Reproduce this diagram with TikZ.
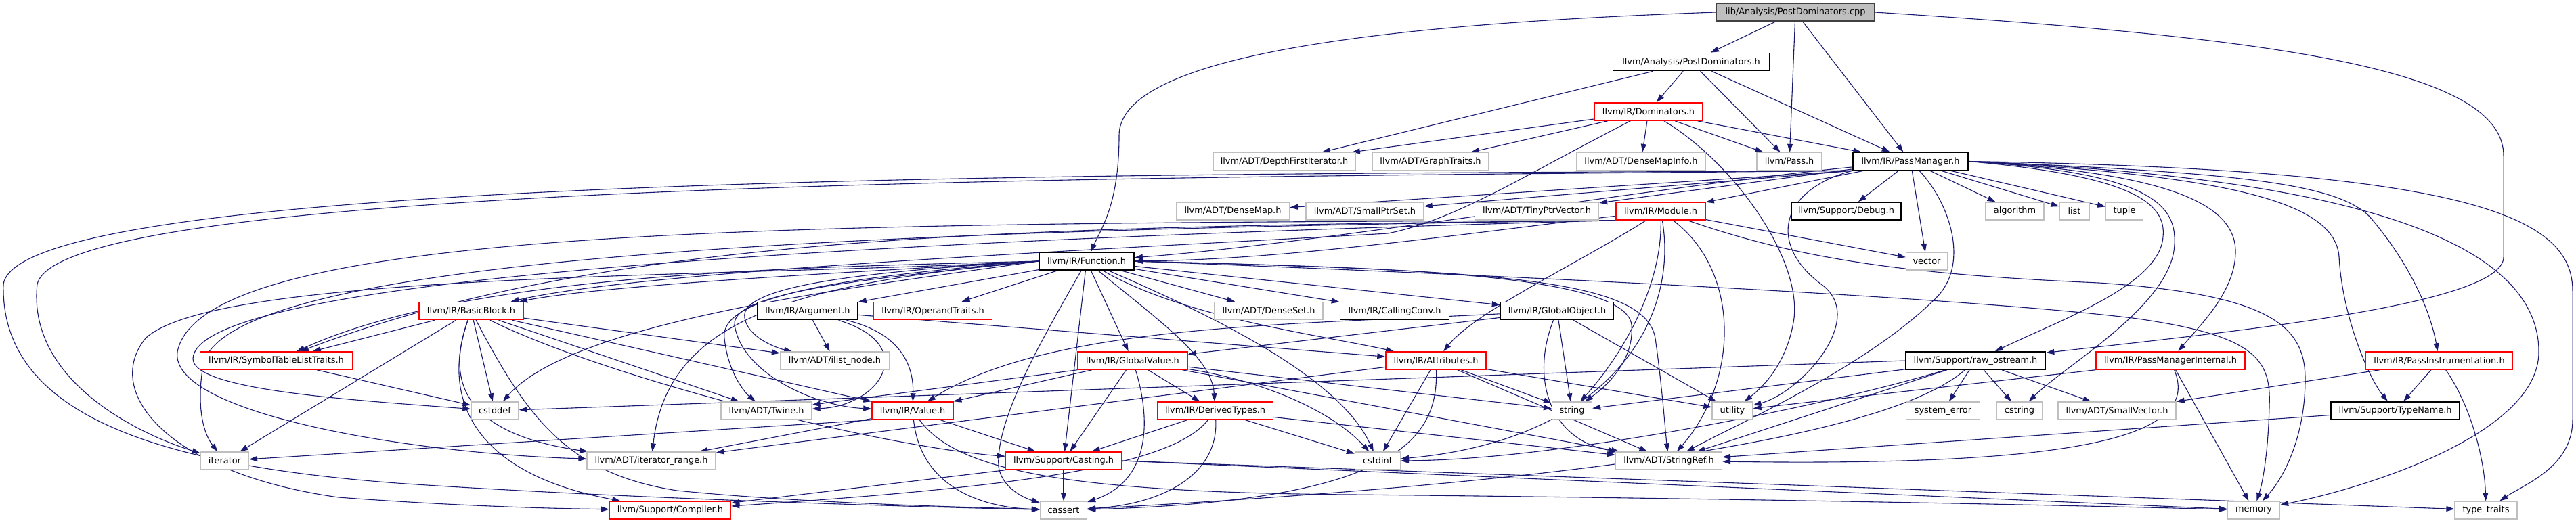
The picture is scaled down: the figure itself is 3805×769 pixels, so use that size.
\documentclass[tikz,border=0pt]{standalone}
\usepackage{fontspec}
\setmainfont{DejaVu Sans}
\usetikzlibrary{arrows.meta}
\definecolor{edgeblue}{HTML}{191970}
\definecolor{lgray}{HTML}{BFBFBF}
\definecolor{dred}{HTML}{FF0000}
\pgfdeclarelayer{bg}
\pgfsetlayers{bg,main}
\newcommand\nodefont{\fontsize{12.9}{15}\selectfont}
\newcommand\mknode[5]{\node[#1, minimum width=#2pt] (#3) at #4 {#5};}
\begin{document}
\begin{tikzpicture}[x=1pt,y=-1pt,
  nd/.style={rectangle, inner sep=0pt, minimum height=26pt, font=\nodefont, fill=white, line width=1.3pt},
  gnode/.style={nd, draw=lgray},
  bnode/.style={nd, draw=black, line width=1.6pt},
  rnode/.style={nd, draw=dred, line width=1.5pt},
  cnode/.style={nd, draw=black!75, fill=lgray, line width=1.6pt},
  e/.style={draw=edgeblue, line width=1.1pt, -{Triangle[length=12pt,width=8pt]}},
]
\useasboundingbox (0,0) rectangle (3805,769);
% row 0-2
\mknode{cnode}{233}{cpp}{(2652,18)}{lib/Analysis/PostDominators.cpp}
\mknode{bnode}{231}{apd}{(2498,91.5)}{llvm/Analysis/PostDominators.h}
\mknode{rnode}{160}{dom}{(2435,165)}{llvm/IR/Dominators.h}
% row 3
\mknode{gnode}{210}{dfi}{(1897,238.5)}{llvm/ADT/DepthFirstIterator.h}
\mknode{gnode}{171}{gt}{(2113,238.5)}{llvm/ADT/GraphTraits.h}
\mknode{gnode}{191}{dmi}{(2424,238.5)}{llvm/ADT/DenseMapInfo.h}
\mknode{gnode}{96}{pass}{(2643,238.5)}{llvm/Pass.h}
\mknode{bnode}{170}{pm}{(2822,238.5)}{llvm/IR/PassManager.h}
% row 4
\mknode{gnode}{167}{dmap}{(1821,312)}{llvm/ADT/DenseMap.h}
\mknode{gnode}{174}{sps}{(2016,312)}{llvm/ADT/SmallPtrSet.h}
\mknode{gnode}{183}{tpv}{(2270,312)}{llvm/ADT/TinyPtrVector.h}
\mknode{rnode}{132}{mod}{(2453,312)}{llvm/IR/Module.h}
\mknode{bnode}{162}{dbg}{(2727,312)}{llvm/Support/Debug.h}
\mknode{gnode}{86}{alg}{(2976,312)}{algorithm}
\mknode{gnode}{44}{lst}{(3064,312)}{list}
\mknode{gnode}{55}{tup}{(3138,312)}{tuple}
% row 5
\mknode{bnode}{140}{fn}{(1605,386)}{llvm/IR/Function.h}
\mknode{gnode}{61}{vec}{(2846,386)}{vector}
% row 6
\mknode{rnode}{154}{bb}{(696,459.5)}{llvm/IR/BasicBlock.h}
\mknode{bnode}{148}{arg}{(1193,459.5)}{llvm/IR/Argument.h}
\mknode{rnode}{175}{ot}{(1378,459.5)}{llvm/IR/OperandTraits.h}
\mknode{gnode}{160}{dset}{(1874,459.5)}{llvm/ADT/DenseSet.h}
\mknode{bnode}{161}{cc}{(2060,459.5)}{llvm/IR/CallingConv.h}
\mknode{bnode}{167}{go}{(2300,459.5)}{llvm/IR/GlobalObject.h}
% row 7
\mknode{rnode}{225}{stlt}{(408,533)}{llvm/IR/SymbolTableListTraits.h}
\mknode{gnode}{161}{iln}{(1233,533)}{llvm/ADT/ilist\_node.h}
\mknode{rnode}{162}{gv}{(1673,533)}{llvm/IR/GlobalValue.h}
\mknode{rnode}{148}{attr}{(2121,533)}{llvm/IR/Attributes.h}
\mknode{bnode}{207}{ros}{(2918,533)}{llvm/Support/raw\_ostream.h}
\mknode{rnode}{220}{pmi}{(3206,533)}{llvm/IR/PassManagerInternal.h}
\mknode{rnode}{217}{pi}{(3603,533)}{llvm/IR/PassInstrumentation.h}
% row 8
\mknode{gnode}{70}{cstddef}{(731,607)}{cstddef}
\mknode{gnode}{134}{twine}{(1132,607)}{llvm/ADT/Twine.h}
\mknode{rnode}{120}{val}{(1348,607)}{llvm/IR/Value.h}
\mknode{rnode}{171}{dt}{(1795,607)}{llvm/IR/DerivedTypes.h}
\mknode{gnode}{59}{str}{(2322,607)}{string}
\mknode{gnode}{60}{util}{(2559,607)}{utility}
\mknode{gnode}{109}{syserr}{(2870,607)}{system\_error}
\mknode{gnode}{67}{cstring}{(2983,607)}{cstring}
\mknode{gnode}{174}{svec}{(3127,607)}{llvm/ADT/SmallVector.h}
\mknode{bnode}{190}{tn}{(3538,607)}{llvm/Support/TypeName.h}
% row 9
\mknode{gnode}{71}{iter}{(332,681)}{iterator}
\mknode{gnode}{190}{itr}{(962,681)}{llvm/ADT/iterator\_range.h}
\mknode{rnode}{171}{cast}{(1571,681)}{llvm/Support/Casting.h}
\mknode{gnode}{67}{cstdint}{(2035,681)}{cstdint}
\mknode{gnode}{157}{sref}{(2465,681)}{llvm/ADT/StringRef.h}
% row 10
\mknode{rnode}{179}{comp}{(990,754)}{llvm/Support/Compiler.h}
\mknode{gnode}{69}{cassert}{(1571,754)}{cassert}
\mknode{gnode}{77}{mem}{(3329,754)}{memory}
\mknode{gnode}{92}{tt}{(3672,754)}{type\_traits}

\begin{pgfonlayer}{bg}
% cpp
\draw[e] (cpp) -- (apd);
\draw[e] (cpp) -- (pass);
\draw[e] (cpp) -- (pm);
\draw[e] (cpp.west) .. controls (2050,35) and (1653,80) .. (1653,200) .. controls (1653,300) and (1628,335) .. (fn);
\draw[e] (cpp.east) .. controls (3350,55) and (3698,100) .. (3698,230) -- (3698,380) .. controls (3698,450) and (3300,490) .. (ros);
% apd
\draw[e] (apd) -- (dom);
\draw[e] (apd) -- (dfi);
\draw[e] (apd) -- (pass);
\draw[e] (apd) -- (pm);
% dom
\draw[e] (dom) -- (dfi);
\draw[e] (dom) -- (gt);
\draw[e] (dom) -- (dmi);
\draw[e] (dom) -- (pass);
\draw[e] (dom) -- (pm);
\draw[e] (dom) .. controls (2250,260) and (2150,325) .. (2050,345) .. controls (1600,370) and (950,400) .. (bb);
\draw[e] (dom) .. controls (2560,240) and (2660,380) .. (2650,470) .. controls (2640,540) and (2600,575) .. (util);
% pm
\draw[e] (pm.south west) -- (dmap);
\draw[e] (pm.south west) -- (sps);
\draw[e] (pm) -- (tpv);
\draw[e] (pm) -- (mod);
\draw[e] (pm) -- (dbg);
\draw[e] (pm) -- (alg);
\draw[e] (pm) -- (lst);
\draw[e] (pm) -- (tup);
\draw[e] (pm) -- (vec);
\draw[e] (pm) .. controls (2450,275) and (1950,360) .. (fn);
\draw[e] (pm.east) .. controls (3150,260) and (3200,300) .. (3195,350) .. controls (3190,420) and (3050,470) .. (ros);
\draw[e] (pm.east) .. controls (3170,255) and (3215,300) .. (3212,360) .. controls (3210,450) and (3050,540) .. (cstring);
\draw[e] (pm.east) .. controls (3200,255) and (3300,300) .. (3302,370) .. controls (3303,430) and (3250,480) .. (pmi);
\draw[e] (pm.east) .. controls (3300,255) and (3450,270) .. (3500,320) .. controls (3560,390) and (3590,460) .. (pi);
\draw[e] (pm.east) .. controls (3300,260) and (3450,300) .. (3455,380) .. controls (3460,470) and (3500,560) .. (tn);
\draw[e] (pm.east) .. controls (3550,265) and (3750,380) .. (3750,520) .. controls (3750,640) and (3500,720) .. (mem);
\draw[e] (pm.east) .. controls (3650,250) and (3800,320) .. (3800,430) -- (3800,620) .. controls (3800,690) and (3730,715) .. (tt);
\draw[e] (pm.south west) .. controls (2630,280) and (2610,360) .. (2690,420) .. controls (2760,470) and (2660,580) .. (util);
\draw[e] (pm) .. controls (2880,300) and (2910,390) .. (2860,440) .. controls (2760,540) and (2580,620) .. (sref);
\draw[e] (pm.south west) .. controls (1800,262) and (90,262) .. (55,420) .. controls (40,560) and (200,640) .. (iter);
\draw[e] (pm.south west) .. controls (1800,258) and (30,250) .. (5,420) .. controls (0,620) and (250,690) .. (600,715) .. controls (900,735) and (1300,748) .. (cassert);
% mod
\draw[e] (mod) -- (vec);
\draw[e] (mod) .. controls (2200,340) and (1900,385) .. (fn);
\draw[e] (mod) .. controls (2330,390) and (2180,460) .. (attr);
\draw[e] (mod) .. controls (2455,420) and (2400,520) .. (str);
\draw[e] (mod) .. controls (2480,470) and (2380,650) .. (cstdint);
\draw[e] (mod) .. controls (2570,400) and (2570,560) .. (sref);
\draw[e] (mod) .. controls (2650,380) and (2800,405) .. (3100,418) .. controls (3350,435) and (3405,480) .. (3405,560) .. controls (3405,650) and (3370,710) .. (mem);
\draw[e] (mod.south west) .. controls (1500,335) and (900,345) .. (stlt);
\draw[e] (mod.south west) .. controls (1200,330) and (300,330) .. (262,520) .. controls (250,610) and (600,670) .. (itr);
\draw[e] (mod.south west) .. controls (1250,340) and (330,380) .. (300,540) .. controls (290,600) and (300,640) .. (iter);
\draw[e] (mod.south west) .. controls (1100,360) and (290,420) .. (285,530) .. controls (285,575) and (500,590) .. (cstddef);
% fn
\draw[e] (fn) -- (arg);
\draw[e] (fn) -- (ot);
\draw[e] (fn) -- (dset);
\draw[e] (fn) -- (cc);
\draw[e] (fn) -- (go);
\draw[e] (fn) .. controls (1750,470) and (1950,495) .. (attr);
\draw[e] (fn) -- (gv);
\draw[e] (fn) .. controls (1720,480) and (1790,530) .. (dt);
\draw[e] (fn) -- (cast);
\draw[e] (fn) .. controls (1540,500) and (1470,620) .. (1475,690) .. controls (1480,720) and (1510,735) .. (cassert);
\draw[e] (fn.east) .. controls (2000,395) and (2400,400) .. (2410,480) .. controls (2415,540) and (2360,580) .. (str);
\draw[e] (fn.east) .. controls (2200,400) and (2430,410) .. (2445,500) .. controls (2455,570) and (2460,640) .. (sref);
\draw[e] (fn) .. controls (1800,470) and (1980,560) .. (cstdint);
\draw[e] (fn.east) .. controls (2300,410) and (2900,440) .. (3150,470) .. controls (3330,495) and (3355,530) .. (3352,600) .. controls (3350,680) and (3340,720) .. (mem);
\draw[e] (fn.west) .. controls (1300,400) and (900,420) .. (bb);
\draw[e] (fn.west) .. controls (1200,395) and (700,400) .. (stlt);
\draw[e] (fn.west) .. controls (1300,400) and (1090,420) .. (1100,470) .. controls (1105,500) and (1150,515) .. (iln);
\draw[e] (fn.west) .. controls (1300,405) and (1060,430) .. (1070,500) .. controls (1075,550) and (1100,580) .. (twine);
\draw[e] (fn.west) .. controls (1300,410) and (1080,430) .. (1085,480) .. controls (1095,550) and (1200,600) .. (val);
\draw[e] (fn.west) .. controls (1150,420) and (985,480) .. (itr);
\draw[e] (fn.west) .. controls (1300,420) and (850,470) .. (cstddef);
\draw[e] (fn.west) .. controls (1100,410) and (320,400) .. (215,500) .. controls (150,580) and (250,700) .. (500,735) .. controls (700,750) and (850,752) .. (comp);
% bb
\draw[e] (bb) -- (stlt);
\draw[e] (bb) -- (iter);
\draw[e] (bb) -- (cstddef);
\draw[e] (bb) .. controls (660,560) and (680,640) .. (itr);
\draw[e] (bb) .. controls (650,590) and (700,700) .. (comp);
\draw[e] (bb) -- (twine);
\draw[e] (bb) -- (iln);
\draw[e] (bb) -- (val);
\draw[e] (bb) .. controls (900,560) and (1300,660) .. (cast);
\draw[e] (bb) .. controls (780,620) and (840,700) .. (1000,725) .. controls (1200,745) and (1450,750) .. (cassert);
% stlt
\draw[e] (stlt) -- (cstddef);
% arg
\draw[e] (arg) -- (iln);
\draw[e] (arg) .. controls (1360,510) and (1300,600) .. (twine);
\draw[e] (arg) .. controls (1320,490) and (1350,530) .. (val);
\draw[e] (arg) -- (attr);
% go
\draw[e] (go) -- (str);
\draw[e] (go) -- (util);
\draw[e] (go) .. controls (2260,560) and (2290,650) .. (sref);
\draw[e] (go) -- (gv);
\draw[e] (go) .. controls (1900,480) and (1550,480) .. (val);
% gv
\draw[e] (gv) -- (val);
\draw[e] (gv) -- (dt);
\draw[e] (gv) -- (cast);
\draw[e] (gv) .. controls (1700,620) and (1700,710) .. (cassert);
\draw[e] (gv.south west) -- (twine);
\draw[e] (gv) -- (str);
\draw[e] (gv) .. controls (1850,560) and (1960,600) .. (cstdint);
\draw[e] (gv) -- (sref);
% attr
\draw[e] (attr) -- (cstdint);
\draw[e] (attr) -- (str);
\draw[e] (attr) -- (sref);
\draw[e] (attr) -- (util);
\draw[e] (attr) .. controls (2125,650) and (2060,740) .. (cassert);
\draw[e] (attr) -- (itr);
% ros
\draw[e] (ros) -- (syserr);
\draw[e] (ros) -- (cstring);
\draw[e] (ros) -- (svec);
\draw[e] (ros) -- (str);
\draw[e] (ros) -- (sref);
\draw[e] (ros) .. controls (2700,600) and (2300,680) .. (cstdint);
\draw[e] (ros) .. controls (2750,680) and (2000,730) .. (cassert);
\draw[e] (ros.west) -- (cstddef);
% pmi
\draw[e] (pmi) -- (mem);
\draw[e] (pmi) .. controls (3250,640) and (3100,690) .. (sref);
\draw[e] (pmi.south west) -- (util);
% pi
\draw[e] (pi) -- (svec);
\draw[e] (pi) -- (tn);
\draw[e] (pi) .. controls (3650,600) and (3670,680) .. (tt);
% tn
\draw[e] (tn) -- (sref);
% val
\draw[e] (val) -- (itr);
\draw[e] (val) -- (cast);
\draw[e] (val) .. controls (1360,720) and (1450,750) .. (cassert);
\draw[e] (val.south west) -- (iter);
\draw[e] (val) .. controls (1410,690) and (1550,728) .. (2000,731) .. controls (2600,737) and (3100,748) .. (mem);
% dt
\draw[e] (dt) -- (cast);
\draw[e] (dt) .. controls (1730,690) and (1500,720) .. (comp);
\draw[e] (dt) .. controls (1800,700) and (1720,745) .. (cassert);
\draw[e] (dt) -- (cstdint);
\draw[e] (dt) -- (sref);
% cast
\draw[e] (cast) -- (cassert);
\draw[e] (cast.south west) -- (comp);
\draw[e] (cast.east) -- (mem);
\draw[e] (cast.east) -- (tt);
\end{pgfonlayer}
\end{tikzpicture}
\end{document}
